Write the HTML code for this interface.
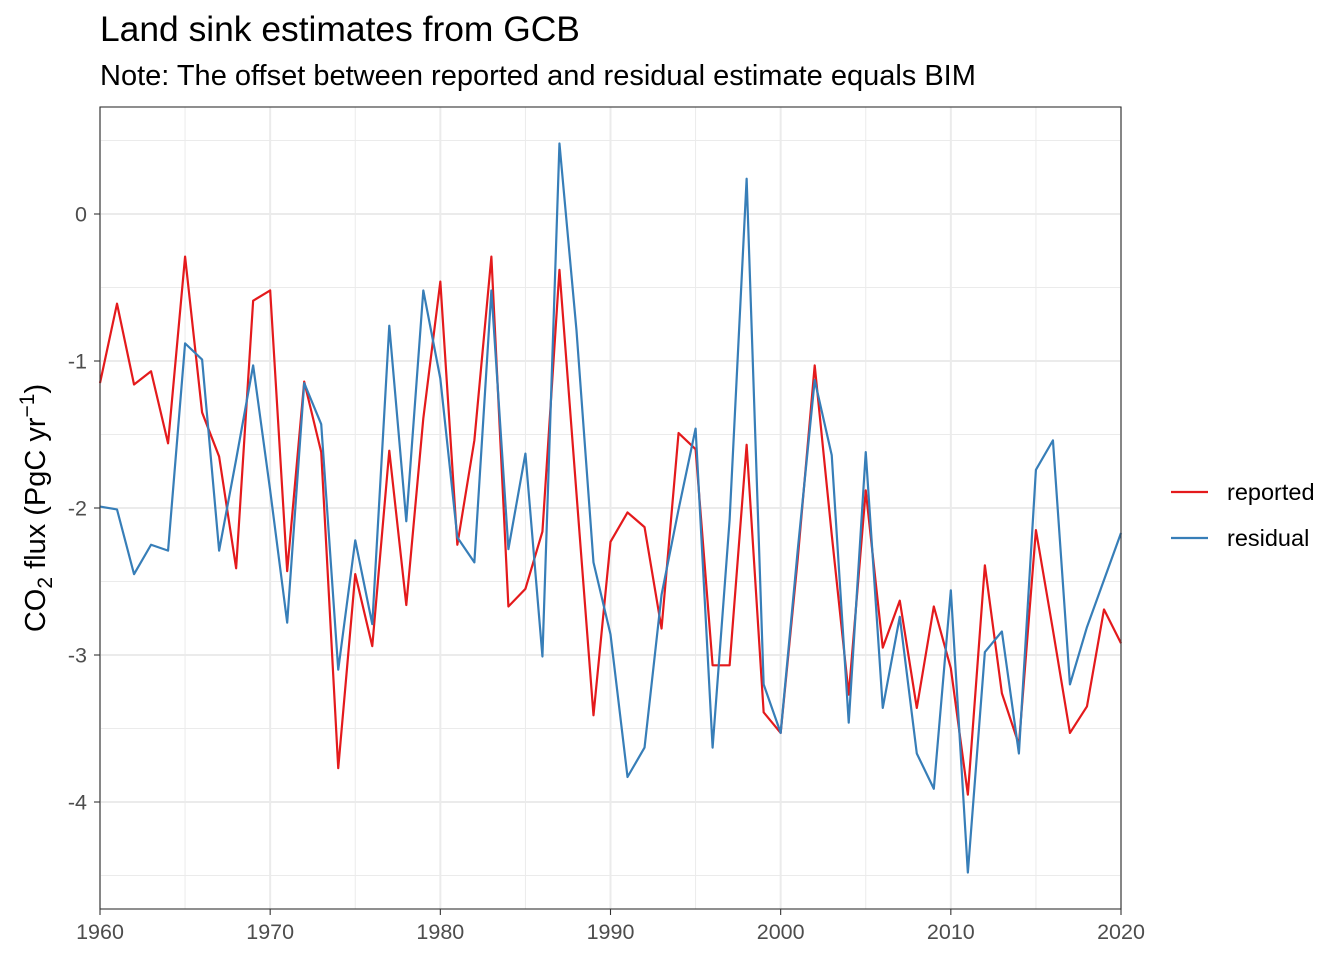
<!DOCTYPE html>
<html><head><meta charset="utf-8"><style>
body{margin:0;background:#fff;font-family:"Liberation Sans",sans-serif;}
</style></head><body>
<svg id="chart" width="1344" height="960" xmlns="http://www.w3.org/2000/svg" font-family="Liberation Sans, sans-serif">
<text x="100" y="41" font-size="35.4" fill="#000">Land sink estimates from GCB</text>
<text x="100" y="85" font-size="29" fill="#000">Note: The offset between reported and residual estimate equals BIM</text>
<g id="grid"></g>
<g id="series"></g>
<rect x="100" y="107" width="1021" height="802" fill="none" stroke="#333" stroke-width="1.1"/>
<g id="axes"></g>
<text transform="translate(45,508) rotate(-90)" text-anchor="middle" font-size="29" fill="#000">CO<tspan font-size="21" dy="7">2</tspan><tspan dy="-7"> flux (PgC yr</tspan><tspan font-size="21" dy="-11">−1</tspan><tspan dy="11">)</tspan></text>
<g>
<line x1="1171" x2="1208" y1="492" y2="492" stroke="#E41A1C" stroke-width="2.2"/>
<text x="1227" y="500" font-size="23.5">reported</text>
<line x1="1171" x2="1208" y1="538" y2="538" stroke="#377EB8" stroke-width="2.2"/>
<text x="1227" y="546" font-size="23.5">residual</text>
</g>
</svg>
<script>
const years=[];for(let y=1960;y<=2020;y++)years.push(y);
const reported=[-1.15,-0.61,-1.16,-1.07,-1.56,-0.29,-1.35,-1.65,-2.41,-0.59,-0.52,-2.43,-1.14,-1.62,-3.77,-2.45,-2.94,-1.61,-2.66,-1.39,-0.46,-2.25,-1.54,-0.29,-2.67,-2.55,-2.16,-0.38,-1.9,-3.41,-2.23,-2.03,-2.13,-2.82,-1.49,-1.60,-3.07,-3.07,-1.57,-3.39,-3.53,-2.35,-1.03,-2.18,-3.27,-1.88,-2.95,-2.63,-3.36,-2.67,-3.09,-3.95,-2.39,-3.26,-3.61,-2.15,-2.83,-3.53,-3.35,-2.69,-2.92];
const residual=[-1.99,-2.01,-2.45,-2.25,-2.29,-0.88,-0.99,-2.29,-1.67,-1.03,-1.88,-2.78,-1.15,-1.43,-3.10,-2.22,-2.79,-0.76,-2.09,-0.52,-1.12,-2.20,-2.37,-0.52,-2.28,-1.63,-3.01,0.48,-0.79,-2.37,-2.86,-3.83,-3.63,-2.59,-2.01,-1.46,-3.63,-2.08,0.24,-3.20,-3.53,-2.29,-1.13,-1.64,-3.46,-1.62,-3.36,-2.74,-3.67,-3.91,-2.56,-4.48,-2.98,-2.84,-3.67,-1.74,-1.54,-3.20,-2.81,-2.49,-2.17];
const xTicks=[1960,1970,1980,1990,2000,2010,2020];
const yTicks=[0,-1,-2,-3,-4];
const X=v=>100+(v-1960)*(1021/60);
const Y=v=>214-v*147;
const ns="http://www.w3.org/2000/svg";
function mk(t,a,p){const e=document.createElementNS(ns,t);for(const k in a)e.setAttribute(k,a[k]);p.appendChild(e);return e;}
const g=document.getElementById('grid'),ax=document.getElementById('axes'),s=document.getElementById('series');
for(let v=0.5;v>=-4.5;v-=1){const l=mk('line',{x1:100,x2:1121,y1:Y(v),y2:Y(v),stroke:'#ebebeb','stroke-width':1},g);

}
for(let v=1965;v<2020;v+=10){const l=mk('line',{x1:X(v),x2:X(v),y1:107,y2:909,stroke:'#ebebeb','stroke-width':1},g);

}
yTicks.forEach(v=>{const l=mk('line',{x1:100,x2:1121,y1:Y(v),y2:Y(v),stroke:'#ebebeb','stroke-width':2},g);


const t=mk('line',{x1:94,x2:100,y1:Y(v),y2:Y(v),stroke:'#333','stroke-width':1.1},ax);


const tx=mk('text',{x:87,y:Y(v)+7.5,'text-anchor':'end','font-size':21.5,fill:'#4d4d4d'},ax);tx.textContent=String(v);

});
xTicks.forEach(v=>{const l=mk('line',{x1:X(v),x2:X(v),y1:107,y2:909,stroke:'#ebebeb','stroke-width':2},g);


const t=mk('line',{x1:X(v),x2:X(v),y1:909,y2:915,stroke:'#333','stroke-width':1.1},ax);


const tx=mk('text',{x:X(v),y:939,'text-anchor':'middle','font-size':21.5,fill:'#4d4d4d'},ax);tx.textContent=v;

});
function line(vals,col,name){const p=mk('polyline',{points:vals.map((v,i)=>X(years[i])+','+Y(v)).join(' '),fill:'none',stroke:col,'stroke-width':2.2,'stroke-linejoin':'round'},s);

}
line(reported,'#E41A1C','reported-line');
line(residual,'#377EB8','residual-line');
</script>
</body></html>
